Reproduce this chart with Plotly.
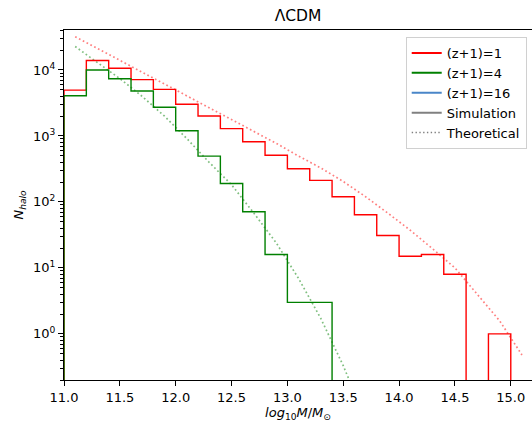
import plotly.graph_objects as go
import math

# ---------------- data ----------------
bin_edges = [11.0, 11.2, 11.4, 11.6, 11.8, 12.0, 12.2, 12.4, 12.6, 12.8, 13.0,
             13.2, 13.4, 13.6, 13.8, 14.0, 14.2, 14.4, 14.6, 14.8, 15.0]
sim_z1 = [4950, 13900, 10600, 7130, 5080, 3030, 2010, 1290, 815, 510,
          318, 212, 120, 64, 31, 15, 16, 8, 0, 1]
sim_z4 = [4060, 10000, 7380, 4790, 2720, 1200, 495, 190, 71, 16,
          3, 3, 0, 0, 0, 0, 0, 0, 0, 0]

centers_z1 = [11.1, 11.3, 11.5, 11.7, 11.9, 12.1, 12.3, 12.5, 12.7, 12.9, 13.1,
              13.3, 13.5, 13.7, 13.9, 14.1, 14.3, 14.5, 14.7, 14.9, 15.1]
theory_z1 = [31990, 21180, 14030, 9290, 6150, 4055, 2710, 1770, 1156, 774, 495,
             327, 204, 120, 67.6, 37.2, 19.5, 10.0, 3.98, 1.58, 0.48]
centers_z4 = [11.1, 11.3, 11.5, 11.7, 11.9, 12.1, 12.3, 12.5, 12.7, 12.9, 13.1,
              13.3, 13.5, 13.7]
theory_z4 = [22650, 12900, 7410, 3980, 1995, 912, 398, 182, 67.6, 24.0, 6.92,
             1.70, 0.33, 0.05]

legend_names = ["(z+1)=1", "(z+1)=4", "(z+1)=16", "Simulation", "Theoretical"]
ytick_vals = [1, 10, 100, 1000, 10000]
ytick_text = ["10<sup>0</sup>", "10<sup>1</sup>", "10<sup>2</sup>", "10<sup>3</sup>", "10<sup>4</sup>"]
xtick_vals = [11.0, 11.5, 12.0, 12.5, 13.0, 13.5, 14.0, 14.5, 15.0]

RED = "#ff0000"
GREEN = "#008000"
BLUE = "#4a86c8"
GRAY = "#808080"
FLOOR = 1e-3  # display value for empty bins (log axis)


def stairs(edges, counts):
    xs = [edges[0]]
    ys = [FLOOR]
    for e, c in zip(edges[:-1], counts):
        xs.append(e)
        ys.append(c if c > 0 else FLOOR)
    xs.append(edges[-1])
    ys.append(FLOOR)
    return xs, ys


fig = go.Figure()

# theoretical curves
fig.add_trace(go.Scatter(x=centers_z1, y=theory_z1, mode="lines", showlegend=False,
                         line=dict(color="rgba(255,0,0,0.5)", width=1.7, dash="1.7px,2.6px")))
fig.add_trace(go.Scatter(x=centers_z4, y=theory_z4, mode="lines", showlegend=False,
                         line=dict(color="rgba(0,128,0,0.5)", width=1.7, dash="1.7px,2.6px")))

# simulation stairs
sx, sy = stairs(bin_edges, sim_z1)
fig.add_trace(go.Scatter(x=sx, y=sy, mode="lines", line_shape="hv", showlegend=False,
                         line=dict(color=RED, width=1.4)))
sx, sy = stairs(bin_edges, sim_z4)
fig.add_trace(go.Scatter(x=sx, y=sy, mode="lines", line_shape="hv", showlegend=False,
                         line=dict(color=GREEN, width=1.4)))

# legend entries
leg_styles = [
    dict(color=RED, width=2),
    dict(color=GREEN, width=2),
    dict(color=BLUE, width=2),
    dict(color=GRAY, width=2),
    dict(color=GRAY, width=1.4, dash="1.4px,2.4px"),
]
for name, st in zip(legend_names, leg_styles):
    fig.add_trace(go.Scatter(x=[None], y=[None], mode="lines", name=name, line=st))

minor_vals = []
for k in range(-1, 5):
    for m in range(2, 10):
        minor_vals.append(m * 10 ** k)

fig.update_layout(
    width=532, height=422,
    margin=dict(l=64, r=0, t=30, b=42),
    paper_bgcolor="white", plot_bgcolor="white",
    font=dict(family="DejaVu Sans", size=13, color="black"),
    title=dict(text="ΛCDM", x=0.5, xref="paper", xanchor="center",
               y=1 - 16 / 422, yref="container", yanchor="middle",
               font=dict(size=15.5)),
    legend=dict(x=0.9887, y=0.98, xanchor="right", yanchor="top",
                bgcolor="rgba(255,255,255,0.8)", bordercolor="#d0d0d0", borderwidth=1,
                font=dict(size=13), itemwidth=30, tracegroupgap=0),
    showlegend=True,
)
fig.update_xaxes(range=[11.0, 15.19], showgrid=False, zeroline=False, automargin=False,
                 showline=True, linecolor="black", linewidth=1.1, mirror=True,
                 ticks="outside", ticklen=5, tickcolor="black",
                 tickvals=xtick_vals, tickformat=".1f",
                 title=dict(text="<i>log</i><sub>10</sub><i>M</i>/<i>M</i><sub>⊙</sub>",
                            standoff=6, font=dict(size=13)))
fig.update_yaxes(type="log", range=[math.log10(0.2), 4.606], showgrid=False, zeroline=False,
                 automargin=False,
                 showline=True, linecolor="black", linewidth=1.1,
                 ticks="outside", ticklen=5, tickcolor="black",
                 tickvals=ytick_vals, ticktext=ytick_text,
                 minor=dict(tickvals=minor_vals, ticks="outside", ticklen=2.5,
                            tickcolor="black", showgrid=False),
                 title=dict(text="<i>N</i><sub><i>halo</i></sub>", standoff=6,
                            font=dict(size=13)))

fig.write_html("out.html", config={"displayModeBar": False},
               post_script="document.body.style.margin='0';document.body.style.overflow='hidden';")
